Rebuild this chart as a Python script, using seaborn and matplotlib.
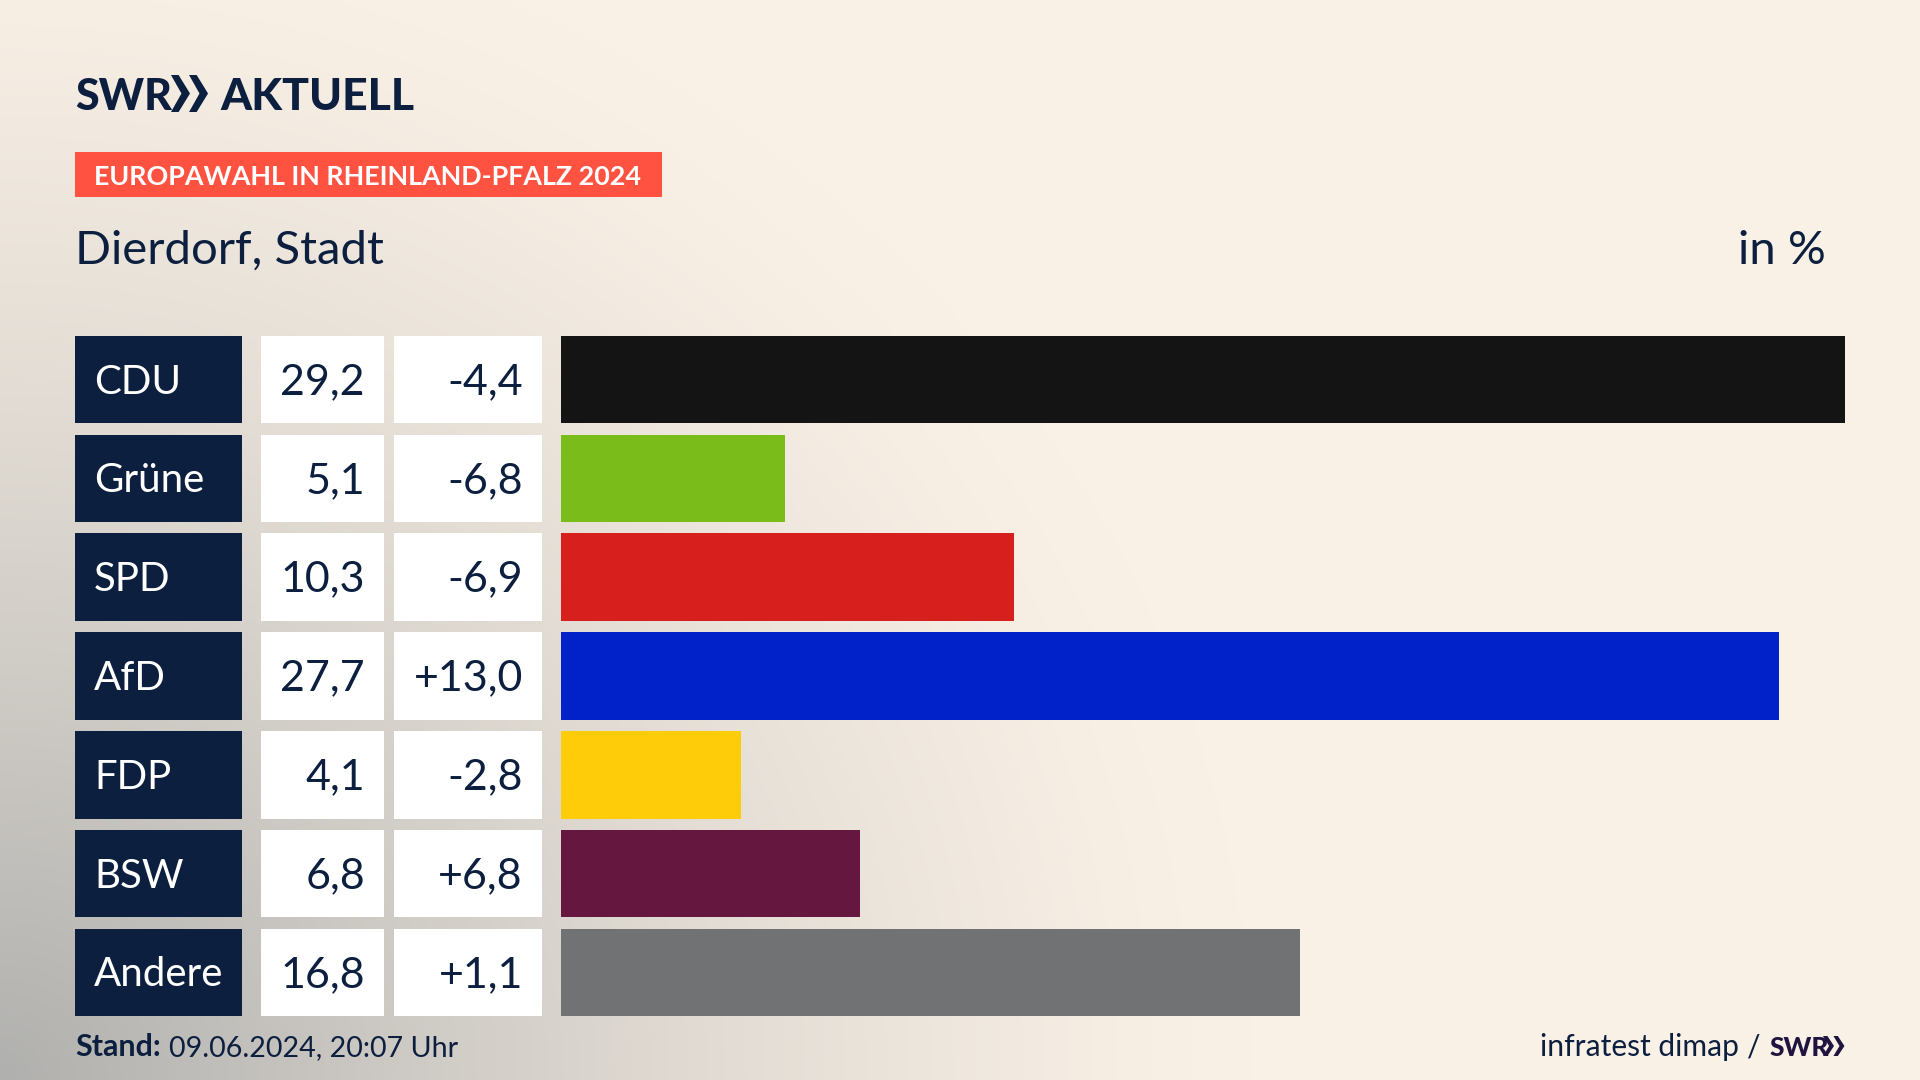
import matplotlib.pyplot as plt
import numpy as np
import pandas as pd
import seaborn as sns

parties = ["CDU", "Grüne", "SPD", "AfD", "FDP", "BSW", "Andere"]
shares = [29.2, 5.1, 10.3, 27.7, 4.1, 6.8, 16.8]
changes = [-4.4, -6.8, -6.9, 13.0, -2.8, 6.8, 1.1]
party_colors = ["#141414", "#7abd1b", "#d71f1d", "#0022c8", "#ffcc0a", "#66173f", "#707274"]

NAVY = "#0c1f3f"
RED = "#ff5240"
W, H = 1920, 1080
ROW_PITCH = 98.83
TOP = 379.5 - ROW_PITCH / 2
BAR_H = 0.885


def de(v, sign=False):
    s = f"{v:+.1f}" if sign else f"{v:.1f}"
    return s.replace(".", ",")


def chevrons(ax, x, y0, y1, w, color):
    # the two arrows of the logo
    mid = (y0 + y1) / 2
    for dx in (0, w * 0.95):
        ax.fill([x + dx, x + dx + w * 0.4, x + dx + w, x + dx + w * 0.4, x + dx, x + dx + w * 0.55],
                [y0, y0, mid, y1, y1, mid], color=color, lw=0)


sns.set_theme(style="white")
plt.rcParams["font.family"] = ["Lato", "DejaVu Sans"]

fig = plt.figure(figsize=(W / 100, H / 100), dpi=100)

# background: cream with a grey glow from the lower left corner
bg = fig.add_axes([0, 0, 1, 1])
yy, xx = np.mgrid[0:H:270j, 0:W:480j]
d = np.sqrt((xx / 1250) ** 2 + ((H - yy) / 1180) ** 2)
t = np.clip(1 - d, 0, 1) ** 1.3
cream = np.array([250, 241, 230]) / 255
grey = np.array([176, 176, 174]) / 255
img = cream + (grey - cream) * t[..., None]
bg.imshow(img, extent=[0, W, H, 0], aspect="auto", interpolation="bilinear")
bg.set_xlim(0, W)
bg.set_ylim(H, 0)
bg.axis("off")

# header
bg.text(75, 110, "SWR", fontsize=31, fontweight="black", color=NAVY, va="baseline")
chevrons(bg, 171, 75, 112, 19, NAVY)
bg.text(220, 110, "AKTUELL", fontsize=32, fontweight="black", color=NAVY, va="baseline")
bg.fill([75, 662, 662, 75], [152, 152, 197, 197], color=RED, lw=0)
bg.text(94, 175, "EUROPAWAHL IN RHEINLAND-PFALZ 2024", fontsize=19.4, fontweight="bold", color="white", va="center_baseline")
bg.text(75, 247, "Dierdorf, Stadt", fontsize=34, color=NAVY, va="center_baseline")
bg.text(1826, 247, "in %", fontsize=34, color=NAVY, va="center_baseline", ha="right")

# footer
bg.text(75, 1056, "Stand:", fontsize=22, fontweight="bold", color=NAVY, va="baseline")
bg.text(169, 1056, "09.06.2024, 20:07 Uhr", fontsize=20.6, color=NAVY, va="baseline")
bg.text(1739, 1056, "infratest dimap", fontsize=21.6, color=NAVY, va="baseline", ha="right")
bg.text(1760, 1056, "/", fontsize=21.6, color=NAVY, va="baseline", ha="right")
bg.text(1769, 1056, "SWR", fontsize=19, fontweight="black", color="#1f1440", va="baseline")
chevrons(bg, 1823, 1036, 1056, 11, "#1f1440")

df = pd.DataFrame({"party": parties, "share": shares})

# table columns left of the bars, same rows as the bar axes
tab = fig.add_axes([75 / W, 1 - (TOP + 7 * ROW_PITCH) / H, (542 - 75) / W, 7 * ROW_PITCH / H])
tab.patch.set_alpha(0)
tab.set_xlim(75, 542)
tab.set_ylim(6.5, -0.5)
tab.axis("off")
rows = np.arange(len(parties))
tab.barh(rows, [167] * 7, left=75, height=BAR_H, color=NAVY, linewidth=0)
tab.barh(rows, [123] * 7, left=261, height=BAR_H, color="white", linewidth=0)
tab.barh(rows, [148] * 7, left=394, height=BAR_H, color="white", linewidth=0)
for i, party in enumerate(parties):
    tab.text(94, i - 0.01, party, fontsize=29, color="white", va="center_baseline")
    tab.text(365, i - 0.01, de(shares[i]), fontsize=31, color=NAVY, va="center_baseline", ha="right")
    tab.text(523, i - 0.01, de(changes[i], sign=True), fontsize=31, color=NAVY, va="center_baseline", ha="right")

# bars
ax = fig.add_axes([561 / W, 1 - (TOP + 7 * ROW_PITCH) / H, (1845 - 561) / W, 7 * ROW_PITCH / H])
ax.patch.set_alpha(0)
sns.barplot(data=df, y="party", x="share", hue="party", palette=party_colors, dodge=False,
            width=BAR_H, saturation=1, legend=False, linewidth=0, ax=ax)
ax.set_xlim(0, 29.2)
ax.set_ylim(6.5, -0.5)
ax.axis("off")

fig.savefig("out.png", dpi=100)
